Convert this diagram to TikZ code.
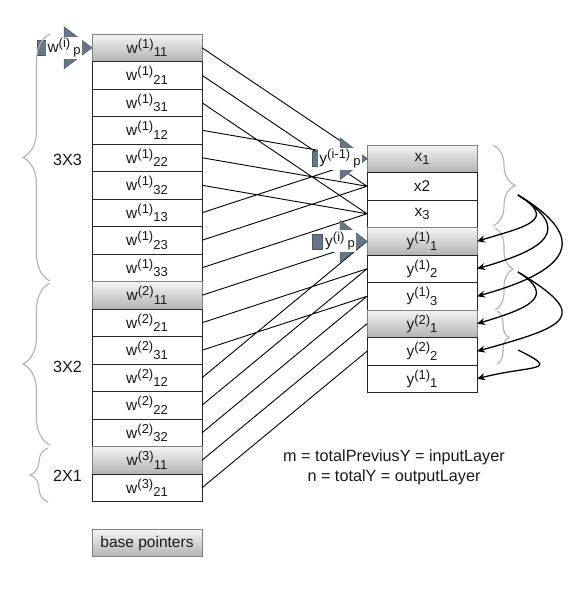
\documentclass[tikz,border=0pt]{standalone}
\usepackage{fontspec}
\setmainfont{Liberation Sans}
\usetikzlibrary{calc}
\usetikzlibrary{positioning}
\usetikzlibrary{arrows.meta}
\usetikzlibrary{decorations.pathreplacing}
\definecolor{myslate}{RGB}{100,118,135}
\definecolor{myslatedark}{RGB}{72,88,104}
\newcommand{\cellfont}{\fontsize{15.5}{18}\selectfont}
\newcommand{\scriptfnt}{\fontsize{13}{13}\selectfont}
\newcommand{\supsub}[3]{#1\raisebox{5pt}{\scriptfnt(#2)}\raisebox{-3.5pt}{\scriptfnt#3}}
\newcommand{\subonly}[2]{#1\raisebox{-3.5pt}{\scriptfnt#2}}
\newcommand{\ptrlab}[2]{#1\raisebox{5pt}{\scriptfnt(#2)}\hspace{3pt}\raisebox{-1.5pt}{\scriptfnt p}}

\begin{document}
\begin{tikzpicture}[%
  x=1pt, y=1pt,
  >={Stealth[length=8pt,width=7pt]},
  cell/.style={draw=black!85, line width=0.9pt, fill=white, minimum width=110pt,
    minimum height=27.5pt, inner sep=0pt, outer sep=0pt, font=\cellfont, text=black!90},
  hcell/.style={cell, draw=black!50, top color=black!4, bottom color=black!30},
  link/.style={line width=0.9pt, black},
  ptr/.style={fill=myslate, draw=myslatedark, line width=0.5pt},
  ptrsq/.style={ptr, minimum width=9.5pt, minimum height=15pt, inner sep=0pt},
  ptrtxt/.style={fill=white, inner sep=1.5pt, font=\cellfont, text=black!90},
  gbrace/.style={decorate, black!30, line width=1.1pt},
  copyarrow/.style={->, line width=1.3pt, black},
  txt/.style={font=\fontsize{16.2}{19.5}\selectfont, text=black!90},
]

  \fill[white] (0,0) rectangle (578,-592);
  \useasboundingbox (0,0) rectangle (578,-592);

  % weight column
  \node[hcell] (l1) at (147,-47.75) {\supsub{w}{1}{11}};
  \node[cell, below=0pt of l1] (l2) {\supsub{w}{1}{21}};
  \node[cell, below=0pt of l2] (l3) {\supsub{w}{1}{31}};
  \node[cell, below=0pt of l3] (l4) {\supsub{w}{1}{12}};
  \node[cell, below=0pt of l4] (l5) {\supsub{w}{1}{22}};
  \node[cell, below=0pt of l5] (l6) {\supsub{w}{1}{32}};
  \node[cell, below=0pt of l6] (l7) {\supsub{w}{1}{13}};
  \node[cell, below=0pt of l7] (l8) {\supsub{w}{1}{23}};
  \node[cell, below=0pt of l8] (l9) {\supsub{w}{1}{33}};
  \node[hcell, below=0pt of l9] (l10) {\supsub{w}{2}{11}};
  \node[cell, below=0pt of l10] (l11) {\supsub{w}{2}{21}};
  \node[cell, below=0pt of l11] (l12) {\supsub{w}{2}{31}};
  \node[cell, below=0pt of l12] (l13) {\supsub{w}{2}{12}};
  \node[cell, below=0pt of l13] (l14) {\supsub{w}{2}{22}};
  \node[cell, below=0pt of l14] (l15) {\supsub{w}{2}{32}};
  \node[hcell, below=0pt of l15] (l16) {\supsub{w}{3}{11}};
  \node[cell, below=0pt of l16] (l17) {\supsub{w}{3}{21}};

  % value column
  \node[hcell] (r1) at (422,-158.75) {\subonly{x}{1}};
  \node[cell, below=0pt of r1] (r2) {x2};
  \node[cell, below=0pt of r2] (r3) {\subonly{x}{3}};
  \node[hcell, below=0pt of r3] (r4) {\supsub{y}{1}{1}};
  \node[cell, below=0pt of r4] (r5) {\supsub{y}{1}{2}};
  \node[cell, below=0pt of r5] (r6) {\supsub{y}{1}{3}};
  \node[hcell, below=0pt of r6] (r7) {\supsub{y}{2}{1}};
  \node[cell, below=0pt of r7] (r8) {\supsub{y}{2}{2}};
  \node[cell, below=0pt of r8] (r9) {\supsub{y}{1}{1}};

  \node[hcell] (bp) at (147,-543) {base pointers};

  \draw[link] (l1.east) -- (r1.west) (l2.east) -- (r2.west) (l3.east) -- (r3.west)
    (l4.east) -- (r1.west) (l5.east) -- (r2.west) (l6.east) -- (r3.west)
    (l7.east) -- (r1.west) (l8.east) -- (r2.west) (l9.east) -- (r3.west);
  \draw[link] (l10.east) -- (r4.west) (l11.east) -- (r5.west) (l12.east) -- (r6.west)
    (l13.east) -- (r4.west) (l14.east) -- (r5.west) (l15.east) -- (r6.west);
  \draw[link] (l16.east) -- (r7.west) (l17.east) -- (r8.west);

  % pointers
  \filldraw[ptr] (l1.west) -- ++(-28,21) -- ++(0,-42) -- cycle;
  \filldraw[ptr] (r1.west) -- ++(-27,21) -- ++(0,-42) -- cycle;
  \filldraw[ptr] (r4.west) -- ++(-27,21) -- ++(0,-42) -- cycle;
  \node[ptrsq, left=45pt of l1.west] (sw) {};
  \node[ptrsq, left=45pt of r1.west] (sx) {};
  \node[ptrsq, left=45pt of r4.west] (sy) {};
  \node[ptrtxt] (pw) at ($(l1.west)+(-28,0)$) {\ptrlab{w}{i}};
  \node[ptrtxt] (px) at ($(r1.west)+(-27,0)$) {\ptrlab{y}{i-1}};
  \node[ptrtxt] (py) at ($(r4.west)+(-27,0)$) {\ptrlab{y}{i}};

  % braces
  \draw[gbrace, decoration={brace, amplitude=27pt}] (50,-281) -- (50,-34);
  \draw[gbrace, decoration={brace, amplitude=27pt}] (50,-445) -- (50,-283);
  \draw[gbrace, decoration={brace, amplitude=18pt}] (48,-502) -- (48,-448);
  \draw[gbrace, decoration={brace, amplitude=22pt}] (493,-145) -- (493,-226);
  \draw[gbrace, decoration={brace, amplitude=18pt}] (495,-228) -- (495,-310);
  \draw[gbrace, decoration={brace, amplitude=12pt}] (497,-311) -- (497,-364);

  \node[txt] (n33) at (67.5,-160) {3X3};
  \node[txt] (n32) at (67.5,-367) {3X2};
  \node[txt] (n21) at (67.5,-476) {2X1};

  \node[txt, align=center] (mn) at (394,-467.5)
    {m = totalPreviusY = inputLayer\\ n = totalY = outputLayer};

  % copy arrows
  \coordinate (s1) at (518,-195);
  \coordinate (s2) at (518,-272);
  \coordinate (s3) at (518,-350);
  \draw[copyarrow] (s1) .. controls +(40,-25) and +(50,15) .. (r4.east);
  \draw[copyarrow] (s1) .. controls +(55,-35) and +(70,20) .. (r5.east);
  \draw[copyarrow] (s1) .. controls +(75,-45) and +(90,25) .. (r6.east);
  \draw[copyarrow] (s2) .. controls +(40,-25) and +(50,15) .. (r7.east);
  \draw[copyarrow] (s2) .. controls +(75,-45) and +(90,25) .. (r8.east);
  \draw[copyarrow] (s3) .. controls +(45,-22) and +(55,14) .. (r9.east);

\end{tikzpicture}
\end{document}
